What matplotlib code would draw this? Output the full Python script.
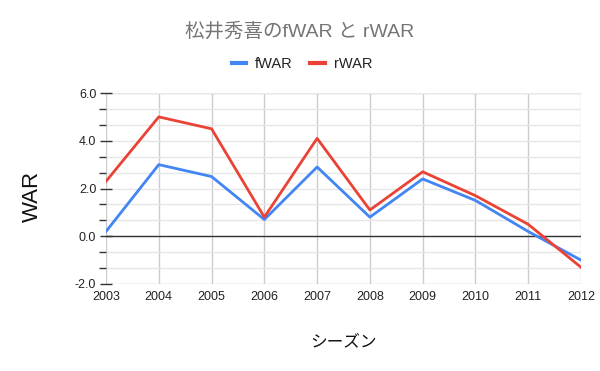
import matplotlib
matplotlib.use("Agg")
import matplotlib.pyplot as plt
from matplotlib.ticker import MultipleLocator, FormatStrFormatter
from matplotlib.lines import Line2D

plt.rcParams['font.family'] = ['Liberation Sans', 'Noto Sans CJK JP', 'DejaVu Sans']

years = [2003, 2004, 2005, 2006, 2007, 2008, 2009, 2010, 2011, 2012]
fwar = [0.2, 3.0, 2.5, 0.7, 2.9, 0.8, 2.4, 1.5, 0.2, -1.0]
rwar = [2.3, 5.0, 4.5, 0.8, 4.1, 1.1, 2.7, 1.7, 0.5, -1.3]
series_names = ["fWAR", "rWAR"]
colors = ["#4285f4", "#ea4335"]
title = "松井秀喜のfWAR と rWAR"
xlabel = "シーズン"
ylabel = "WAR"

fig = plt.figure(figsize=(6, 3.71), dpi=100)
ax = fig.add_axes([106/600, 1-284/371, 475/600, 191/371])

ax.plot(years, fwar, color=colors[0], lw=2, zorder=3)
ax.plot(years, rwar, color=colors[1], lw=2, zorder=3)

ax.set_xlim(2003, 2012)
ax.set_ylim(-2, 6)
ax.set_xticks(years)
ax.set_xticklabels([str(y) for y in years])
ax.yaxis.set_major_locator(MultipleLocator(2))
ax.yaxis.set_minor_locator(MultipleLocator(2/3))
ax.yaxis.set_major_formatter(FormatStrFormatter('%.1f'))
ax.grid(True, which='both', axis='y', color='#e6e6e6', lw=1, zorder=0)
ax.grid(True, which='major', axis='x', color='#cccccc', lw=1, zorder=0)
ax.axhline(0, color='#333333', lw=1, zorder=2)

for s in ['top', 'right', 'bottom', 'left']:
    ax.spines[s].set_visible(False)
ax.axhline(-2, color='#cccccc', lw=1, zorder=1)
ax.axhline(6, color='#cccccc', lw=1, zorder=1)

ax.tick_params(axis='x', length=0, pad=5, labelsize=9, labelcolor='#222222')
ax.tick_params(axis='y', which='major', length=8, width=1, color='#333333', direction='inout', labelsize=9, labelcolor='#222222', pad=3)
ax.tick_params(axis='y', which='minor', length=5, width=1, color='#333333', direction='out')

fig.text(300/600, 1-32/371, title, ha='center', va='center', fontsize=14, color='#757575')
handles = [Line2D([0], [0], color=c, lw=3) for c in colors]
fig.legend(handles, series_names, loc='center', bbox_to_anchor=(302/600, 1-64/371), ncol=2,
           frameon=False, fontsize=10.5, handlelength=1.0, handletextpad=0.6, columnspacing=1.2,
           labelcolor='#222222')
fig.text(32/600, 1-196/371, ylabel, rotation=90, ha='center', va='center', fontsize=16, color='#111111')
fig.text(343/600, 1-342/371, xlabel, ha='center', va='center', fontsize=12, color='#111111')

fig.savefig("out.png", dpi=100)
